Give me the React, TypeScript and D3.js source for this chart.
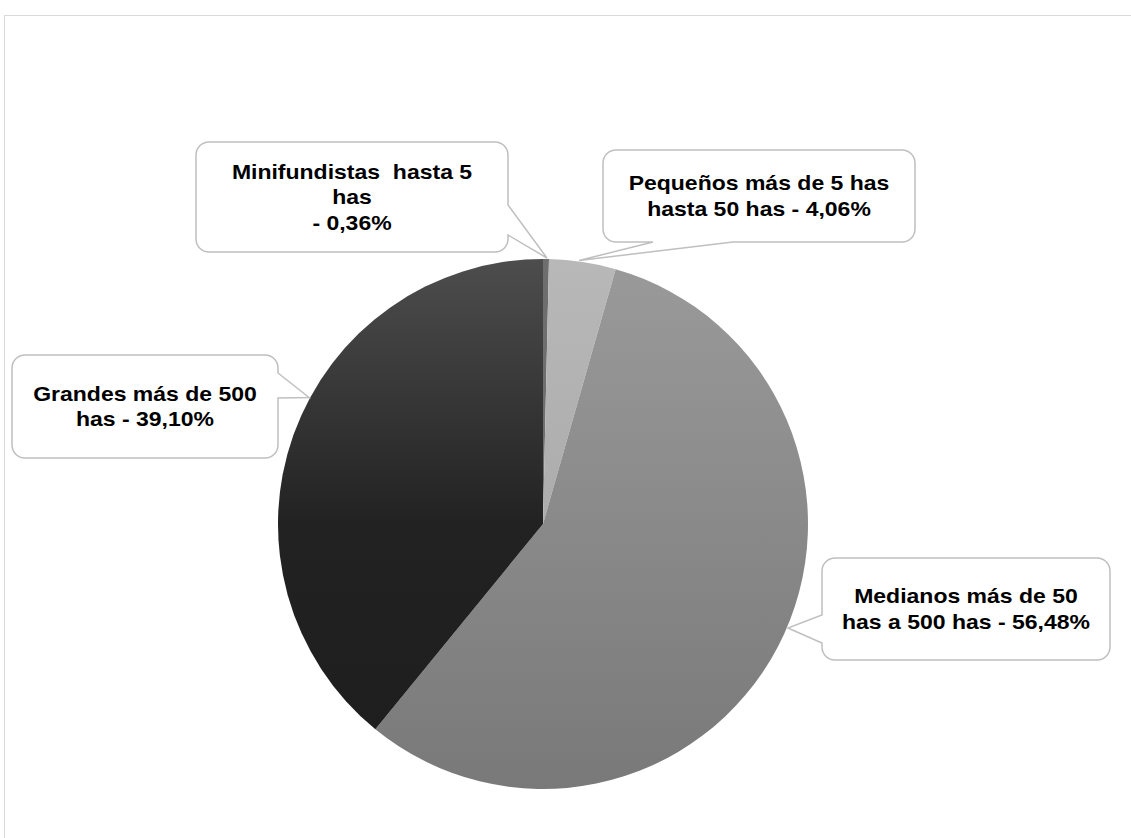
import React from "react";
import * as d3 from "d3";

const categories = [
  "Minifundistas hasta 5 has",
  "Pequeños más de 5 has hasta 50 has",
  "Medianos más de 50 has a 500 has",
  "Grandes más de 500 has",
];
const values = [0.36, 4.06, 56.48, 39.1];
const labelLines = [
  ["Minifundistas  hasta 5", "has", "- 0,36%"],
  ["Pequeños más de 5 has", "hasta 50 has - 4,06%"],
  ["Medianos más de 50", "has a 500 has - 56,48%"],
  ["Grandes más de 500", "has - 39,10%"],
];

const W = 1131;
const H = 838;
const CX = 543;
const CY = 524;
const R = 265;

type Box = {
  x0: number; y0: number; x1: number; y1: number;
  side: "left" | "right" | "bottom";
  a: number; b: number; tipAngle: number;
};
const boxes: Box[] = [
  { x0: 196, y0: 142, x1: 508, y1: 252, side: "right", a: 205, b: 235, tipAngle: 0.86 },
  { x0: 603, y0: 150, x1: 915, y1: 242, side: "bottom", a: 653, b: 733, tipAngle: 7.8 },
  { x0: 822, y0: 558, x1: 1110, y1: 660, side: "left", a: 615, b: 643, tipAngle: 113 },
  { x0: 12, y0: 355, x1: 278, y1: 458, side: "right", a: 373, b: 398, tipAngle: 298.4 },
];

function calloutPath(bx: Box, tx: number, ty: number) {
  const r = 13;
  const { x0, y0, x1, y1, side, a, b } = bx;
  let p = `M${x0 + r},${y0} H${x1 - r} A${r},${r} 0 0 1 ${x1},${y0 + r}`;
  if (side === "right") p += ` V${a} L${tx},${ty} L${x1},${b}`;
  p += ` V${y1 - r} A${r},${r} 0 0 1 ${x1 - r},${y1}`;
  if (side === "bottom") p += ` H${b} L${tx},${ty} L${a},${y1}`;
  p += ` H${x0 + r} A${r},${r} 0 0 1 ${x0},${y1 - r}`;
  if (side === "left") p += ` V${b} L${tx},${ty} L${x0},${a}`;
  p += ` V${y0 + r} A${r},${r} 0 0 1 ${x0 + r},${y0} Z`;
  return p;
}

export default function App() {
  const pie = d3.pie<number>().sort(null).value((d) => d);
  const arcs = pie(values);
  const arc = d3.arc<d3.PieArcDatum<number>>().innerRadius(0).outerRadius(R);
  const fills = ["#6e6e6e", "url(#gPeq)", "url(#gMed)", "url(#gGra)"];
  const sx = 1.15;

  return (
    <svg
      width={W}
      height={H}
      style={{ position: "absolute", left: 0, top: 0, background: "#fff" }}
    >
      <defs>
        <linearGradient id="gPeq" gradientUnits="userSpaceOnUse" x1={0} y1={-R} x2={0} y2={R}>
          <stop offset="0" stopColor="#b8b8b8" />
          <stop offset="1" stopColor="#a0a0a0" />
        </linearGradient>
        <linearGradient id="gMed" gradientUnits="userSpaceOnUse" x1={0} y1={-R} x2={0} y2={R}>
          <stop offset="0" stopColor="#9a9a9a" />
          <stop offset="1" stopColor="#797979" />
        </linearGradient>
        <linearGradient id="gGra" gradientUnits="userSpaceOnUse" x1={0} y1={-R} x2={0} y2={R}>
          <stop offset="0" stopColor="#4d4d4d" />
          <stop offset="0.5" stopColor="#222222" />
          <stop offset="1" stopColor="#1d1d1d" />
        </linearGradient>
      </defs>
      <rect x={4.5} y={15.5} width={W + 20} height={H + 20} fill="none" stroke="#d9d9d9" strokeWidth={1} />
      <g transform={`translate(${CX},${CY})`}>
        {arcs.map((d, i) => (
          <path key={categories[i]} d={arc(d) || ""} fill={fills[i]} />
        ))}
      </g>
      {boxes.map((bx, i) => {
        const ang = (bx.tipAngle * Math.PI) / 180;
        const tx = CX + (R + 1) * Math.sin(ang);
        const ty = CY - (R + 1) * Math.cos(ang);
        const lines = labelLines[i];
        const cx = (bx.x0 + bx.x1) / 2;
        const cy = (bx.y0 + bx.y1) / 2;
        const lh = 25.5;
        const first = cy + 7 - ((lines.length - 1) * lh) / 2;
        return (
          <g key={categories[i]}>
            <path d={calloutPath(bx, tx, ty)} fill="#fff" stroke="#bfbfbf" strokeWidth={1.5} />
            {lines.map((t, j) => (
              <text
                key={j}
                transform={`translate(${cx},${first + j * lh}) scale(${sx},1)`}
                textAnchor="middle"
                fontFamily="'Liberation Sans', Arial, sans-serif"
                fontWeight="bold"
                fontSize={20}
                fill="#000"
                style={{ whiteSpace: "pre" }}
              >
                {t}
              </text>
            ))}
          </g>
        );
      })}
    </svg>
  );
}
